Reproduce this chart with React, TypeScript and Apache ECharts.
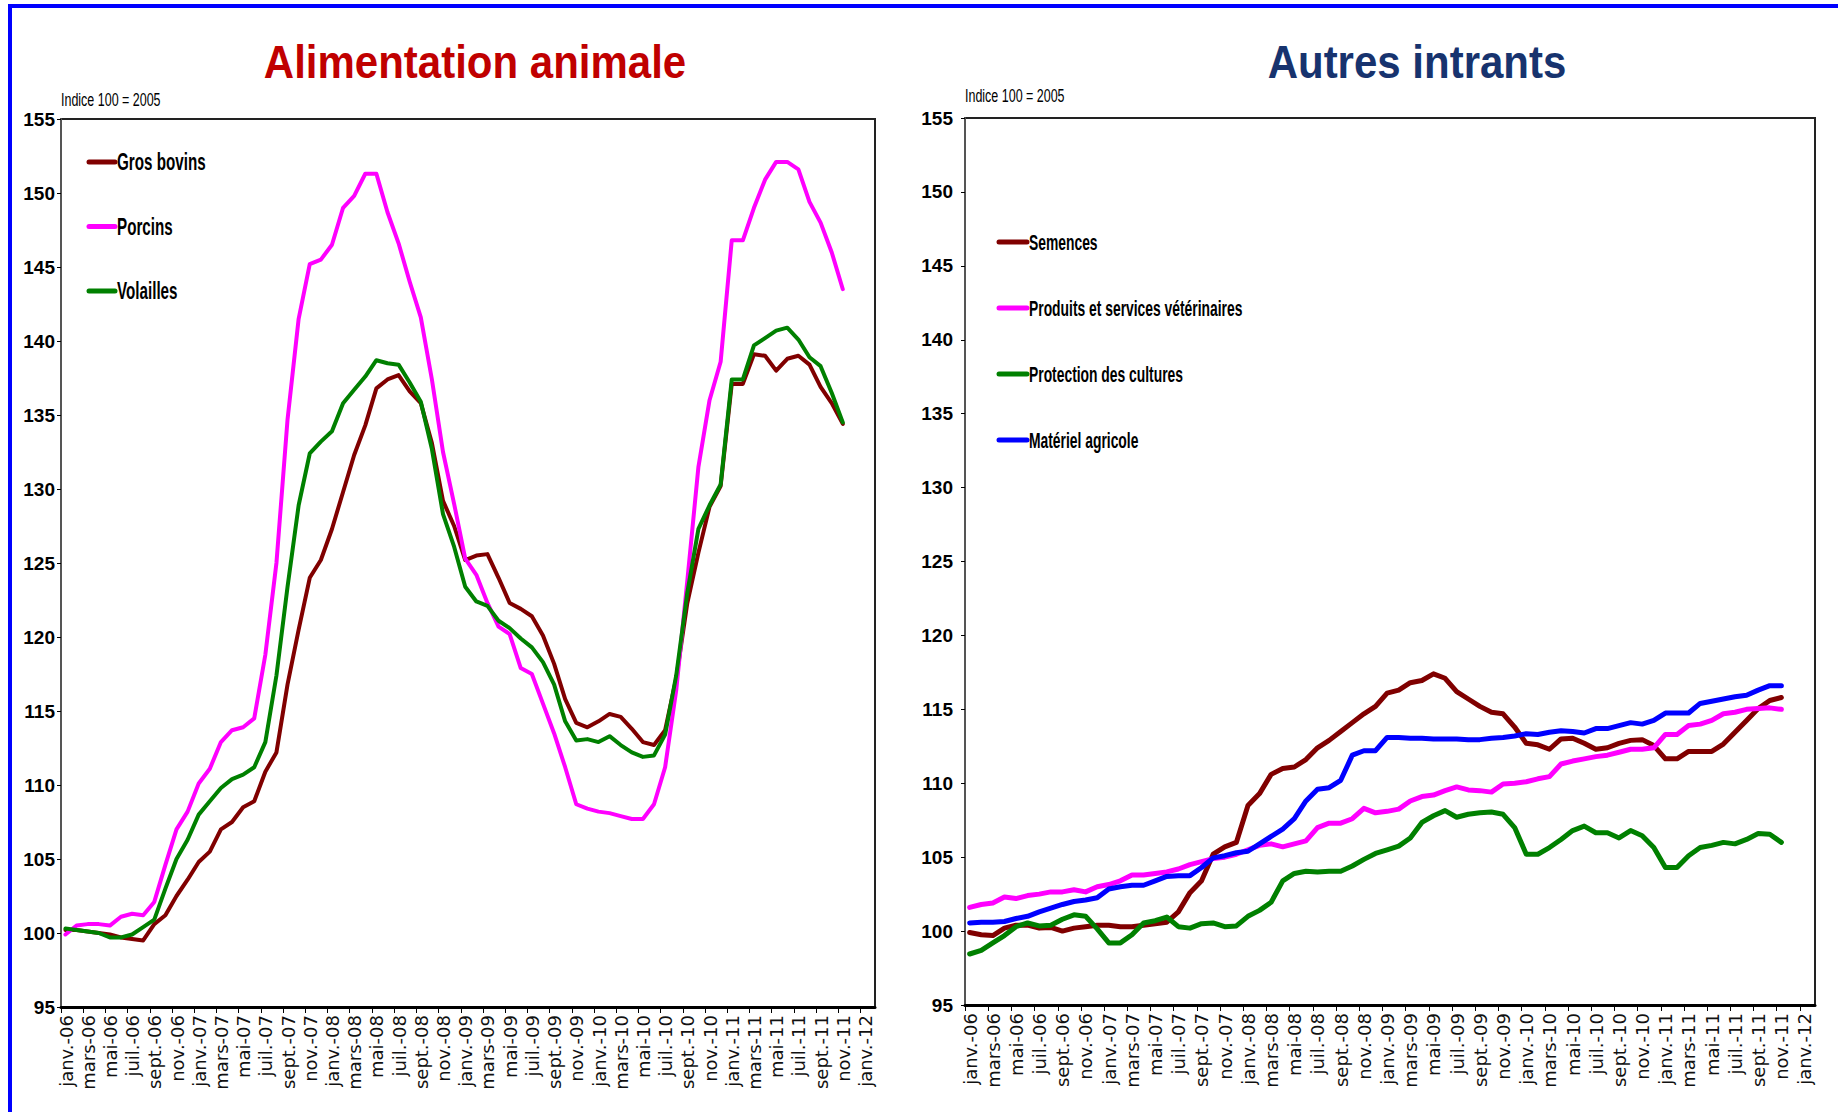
import React, { useEffect, useRef } from 'react';
import * as echarts from 'echarts';

const xTickLabels = [
  'janv.-06', 'mars-06', 'mai-06', 'juil.-06', 'sept.-06', 'nov.-06',
  'janv.-07', 'mars-07', 'mai-07', 'juil.-07', 'sept.-07', 'nov.-07',
  'janv.-08', 'mars-08', 'mai-08', 'juil.-08', 'sept.-08', 'nov.-08',
  'janv.-09', 'mars-09', 'mai-09', 'juil.-09', 'sept.-09', 'nov.-09',
  'janv.-10', 'mars-10', 'mai-10', 'juil.-10', 'sept.-10', 'nov.-10',
  'janv.-11', 'mars-11', 'mai-11', 'juil.-11', 'sept.-11', 'nov.-11',
  'janv.-12',
];

const yTicks = { min: 95, max: 155, step: 5 };

// Alimentation animale (monthly, janv.-06 .. nov.-11)
const grosBovins = [
  100.2, 100.2, 100.1, 100.0, 99.9, 99.7, 99.6, 99.5, 100.6, 101.2, 102.5, 103.6,
  104.8, 105.5, 107.0, 107.5, 108.5, 108.9, 110.9, 112.2, 116.8, 120.5, 124.0, 125.2,
  127.3, 129.8, 132.3, 134.3, 136.8, 137.4, 137.7, 136.6, 135.8, 133.1, 129.2, 127.5,
  125.2, 125.5, 125.6, 124.0, 122.3, 121.9, 121.4, 120.1, 118.2, 115.8, 114.2, 113.9,
  114.3, 114.8, 114.6, 113.8, 112.9, 112.7, 113.7, 117.2, 122.3, 125.7, 128.8, 130.2,
  137.1, 137.1, 139.1, 139.0, 138.0, 138.8, 139.0, 138.4, 136.9, 135.8, 134.4,
];
const porcins = [
  99.9, 100.5, 100.6, 100.6, 100.5, 101.1, 101.3, 101.2, 102.1, 104.6, 107.0, 108.2,
  110.1, 111.1, 112.9, 113.7, 113.9, 114.5, 118.8, 125.0, 134.7, 141.5, 145.2, 145.5,
  146.5, 149.0, 149.8, 151.3, 151.3, 148.7, 146.6, 144.0, 141.6, 137.4, 132.5, 129.0,
  125.3, 124.2, 122.3, 120.7, 120.2, 117.9, 117.5, 115.5, 113.5, 111.2, 108.7, 108.4,
  108.2, 108.1, 107.9, 107.7, 107.7, 108.7, 111.2, 116.4, 123.8, 131.5, 136.0, 138.6,
  146.8, 146.8, 149.0, 150.9, 152.1, 152.1, 151.6, 149.4, 148.0, 146.0, 143.5,
];
const volailles = [
  100.3, 100.2, 100.1, 100.0, 99.7, 99.7, 99.9, 100.4, 100.9, 103.0, 105.0, 106.3,
  108.0, 108.9, 109.8, 110.4, 110.7, 111.2, 112.9, 117.4, 123.4, 128.9, 132.4, 133.2,
  133.9, 135.8, 136.7, 137.6, 138.7, 138.5, 138.4, 137.2, 135.9, 132.7, 128.3, 126.1,
  123.4, 122.4, 122.1, 121.1, 120.6, 119.9, 119.3, 118.3, 116.8, 114.3, 113.0, 113.1,
  112.9, 113.3, 112.7, 112.2, 111.9, 112.0, 113.4, 117.4, 123.0, 127.3, 128.9, 130.3,
  137.4, 137.4, 139.7, 140.2, 140.7, 140.9, 140.1, 138.9, 138.3, 136.5, 134.5,
];

// Autres intrants
const semences = [
  99.9, 99.75, 99.7, 100.2, 100.4, 100.4, 100.2, 100.25, 100.0, 100.2, 100.3, 100.4,
  100.4, 100.3, 100.3, 100.4, 100.5, 100.6, 101.3, 102.6, 103.4, 105.2, 105.7, 106.0,
  108.5, 109.3, 110.6, 111.0, 111.1, 111.6, 112.4, 112.9, 113.5, 114.1, 114.7, 115.2,
  116.1, 116.3, 116.8, 116.95, 117.4, 117.1, 116.2, 115.7, 115.2, 114.8, 114.7, 113.8,
  112.7, 112.6, 112.3, 113.0, 113.05, 112.7, 112.3, 112.4, 112.7, 112.9, 112.95, 112.55,
  111.65, 111.65, 112.15, 112.15, 112.15, 112.65, 113.45, 114.25, 115.05, 115.6, 115.8,
];
const produitsVeterinaires = [
  101.6, 101.8, 101.9, 102.3, 102.2, 102.4, 102.5, 102.65, 102.65, 102.8, 102.65, 103.0,
  103.15, 103.4, 103.8, 103.8, 103.9, 104.0, 104.2, 104.5, 104.7, 104.9, 105.0, 105.2,
  105.5, 105.8, 105.9, 105.7, 105.9, 106.1, 107.0, 107.3, 107.3, 107.6, 108.3, 108.0,
  108.1, 108.25, 108.8, 109.1, 109.2, 109.5, 109.75, 109.55, 109.5, 109.4, 109.95, 110.0,
  110.1, 110.3, 110.45, 111.3, 111.5, 111.65, 111.8, 111.9, 112.1, 112.3, 112.3, 112.4,
  113.3, 113.3, 113.9, 114.0, 114.25, 114.7, 114.8, 115.0, 115.05, 115.1, 115.0,
];
const protectionCultures = [
  98.45, 98.7, 99.2, 99.7, 100.3, 100.55, 100.35, 100.4, 100.8, 101.1, 101.0, 100.15,
  99.2, 99.2, 99.75, 100.55, 100.7, 100.95, 100.3, 100.2, 100.5, 100.55, 100.3, 100.35,
  101.0, 101.4, 101.95, 103.4, 103.9, 104.05, 104.0, 104.05, 104.05, 104.4, 104.85, 105.25,
  105.5, 105.75, 106.3, 107.35, 107.8, 108.15, 107.7, 107.9, 108.0, 108.05, 107.9, 107.0,
  105.2, 105.2, 105.65, 106.2, 106.8, 107.1, 106.65, 106.65, 106.3, 106.8, 106.45, 105.65,
  104.3, 104.3, 105.1, 105.65, 105.8, 106.0, 105.9, 106.2, 106.6, 106.55, 106.0,
];
const materielAgricole = [
  100.55, 100.6, 100.6, 100.65, 100.85, 101.0, 101.3, 101.55, 101.8, 102.0, 102.1, 102.25,
  102.85, 103.0, 103.1, 103.1, 103.4, 103.7, 103.75, 103.75, 104.3, 104.95, 105.1, 105.3,
  105.4, 105.9, 106.4, 106.9, 107.6, 108.8, 109.6, 109.7, 110.2, 111.9, 112.2, 112.2,
  113.1, 113.1, 113.05, 113.05, 113.0, 113.0, 113.0, 112.95, 112.95, 113.05, 113.1, 113.2,
  113.35, 113.3, 113.45, 113.55, 113.5, 113.4, 113.7, 113.7, 113.9, 114.1, 114.0, 114.25,
  114.75, 114.75, 114.75, 115.4, 115.55, 115.7, 115.85, 115.95, 116.3, 116.6, 116.6,
];

const leftSeries = [
  { name: 'Gros bovins', color: '#800000', data: grosBovins },
  { name: 'Porcins', color: '#FF00FF', data: porcins },
  { name: 'Volailles', color: '#008000', data: volailles },
];
const rightSeries = [
  { name: 'Semences', color: '#800000', data: semences },
  { name: 'Produits et services vétérinaires', color: '#FF00FF', data: produitsVeterinaires },
  { name: 'Protection des cultures', color: '#008000', data: protectionCultures },
  { name: 'Matériel agricole', color: '#0000FF', data: materielAgricole },
];

const ARIAL = "'Liberation Sans', Arial, sans-serif";
const POINT_OFFSET = 0.4; // points sit a little right of month ticks
const X_MAX = 73.3;

function xFormatter(v: number): string {
  const i = Math.round(v);
  if (Math.abs(v - i) > 1e-6 || i % 2 !== 0) return '';
  return xTickLabels[i / 2] ?? '';
}

function makeXAxis(gridIndex: number) {
  return {
    type: 'value',
    gridIndex,
    min: 0,
    max: X_MAX,
    interval: 2,
    axisLine: { show: true, onZero: false, lineStyle: { color: '#000', width: 3 } },
    axisTick: { show: true, length: 6, lineStyle: { color: '#000', width: 1 } },
    axisLabel: {
      rotate: 90,
      margin: 8,
      fontFamily: "'DejaVu Sans', sans-serif",
      fontSize: 18,
      color: '#111',
      verticalAlign: 'top',
      lineHeight: 10,
      formatter: xFormatter,
      showMaxLabel: false,
    },
    splitLine: { show: false },
  };
}

function makeYAxis(gridIndex: number, margin: number) {
  return {
    type: 'value',
    gridIndex,
    min: yTicks.min,
    max: yTicks.max,
    interval: yTicks.step,
    axisLine: { show: true, lineStyle: { color: '#555', width: 2 } },
    axisTick: { show: true, length: 4, lineStyle: { color: '#000', width: 1 } },
    axisLabel: {
      fontFamily: ARIAL,
      fontWeight: 'bold',
      fontSize: 19,
      color: '#000',
      margin,
    },
    splitLine: { show: false },
  };
}

function makeSeries(list: { name: string; color: string; data: number[] }[], axisIndex: number, width: number) {
  return list.map((s) => ({
    type: 'line',
    name: s.name,
    xAxisIndex: axisIndex,
    yAxisIndex: axisIndex,
    data: s.data.map((v, i) => [i + POINT_OFFSET, v]),
    showSymbol: false,
    symbol: 'none',
    color: s.color,
    lineStyle: { color: s.color, width, cap: 'round', join: 'round' },
    emphasis: { disabled: true },
  }));
}

function legendGraphic(
  list: { name: string; color: string }[],
  x0: number, y0: number, gap: number, lineLen: number,
  fontSize: number, sx: number, sy: number,
) {
  const els: any[] = [];
  list.forEach((s, i) => {
    const y = y0 + i * gap;
    els.push({
      type: 'line',
      silent: true,
      shape: { x1: x0, y1: y, x2: x0 + lineLen, y2: y },
      style: { stroke: s.color, lineWidth: 5, lineCap: 'round' },
    });
    els.push({
      type: 'text',
      silent: true,
      x: x0 + lineLen + 2,
      y,
      scaleX: sx,
      scaleY: sy,
      style: {
        text: s.name,
        fontFamily: ARIAL,
        fontWeight: 'bold',
        fontSize,
        fill: '#000',
        align: 'left',
        verticalAlign: 'middle',
        textAlign: 'left',
        textVerticalAlign: 'middle',
      },
    });
  });
  return els;
}

function noteText(x: number, y: number) {
  return {
    type: 'text',
    silent: true,
    x,
    y,
    scaleX: 0.78,
    scaleY: 1.2,
    style: {
      text: 'Indice 100 = 2005',
      fontFamily: ARIAL,
      fontSize: 16,
      fill: '#000',
      align: 'left',
      verticalAlign: 'middle',
      textAlign: 'left',
      textVerticalAlign: 'middle',
    },
  };
}

function titleText(x: number, text: string, color: string) {
  return {
    type: 'text',
    silent: true,
    x,
    y: 62,
    scaleY: 1.08,
    style: {
      text,
      fontFamily: ARIAL,
      fontWeight: 'bold',
      fontSize: 42,
      fill: color,
      align: 'center',
      verticalAlign: 'middle',
      textAlign: 'center',
      textVerticalAlign: 'middle',
    },
  };
}

export default function App() {
  const ref = useRef<HTMLDivElement>(null);

  useEffect(() => {
    document.body.style.margin = '0';
    if (!ref.current) return;
    const chart = echarts.init(ref.current, null, { renderer: 'svg' });

    const option: any = {
      animation: false,
      backgroundColor: '#ffffff',
      grid: [
        { left: 61, top: 119, width: 814, height: 888, show: true, borderColor: '#222', borderWidth: 2, backgroundColor: 'transparent' },
        { left: 965, top: 118, width: 850, height: 887, show: true, borderColor: '#222', borderWidth: 2, backgroundColor: 'transparent' },
      ],
      xAxis: [makeXAxis(0), makeXAxis(1)],
      yAxis: [makeYAxis(0, 6), makeYAxis(1, 12)],
      graphic: [
        {
          type: 'rect',
          silent: true,
          z: 100,
          shape: { x: 10, y: 6, width: 1900, height: 1200 },
          style: { fill: 'none', stroke: '#0000FF', lineWidth: 4 },
        },
        titleText(475, 'Alimentation animale', '#C00000'),
        titleText(1417, 'Autres intrants', '#17336E'),
        noteText(61, 99),
        noteText(965, 95),
        ...legendGraphic(leftSeries, 89, 162, 64.5, 26, 20, 0.76, 1.15),
        ...legendGraphic(rightSeries, 999, 242, 66, 28, 19, 0.73, 1.18),
      ],
      series: [...makeSeries(leftSeries, 0, 4), ...makeSeries(rightSeries, 1, 5)],
    };

    chart.setOption(option);
    return () => chart.dispose();
  }, []);

  return <div ref={ref} style={{ width: 1838, height: 1112, background: '#fff' }} />;
}
